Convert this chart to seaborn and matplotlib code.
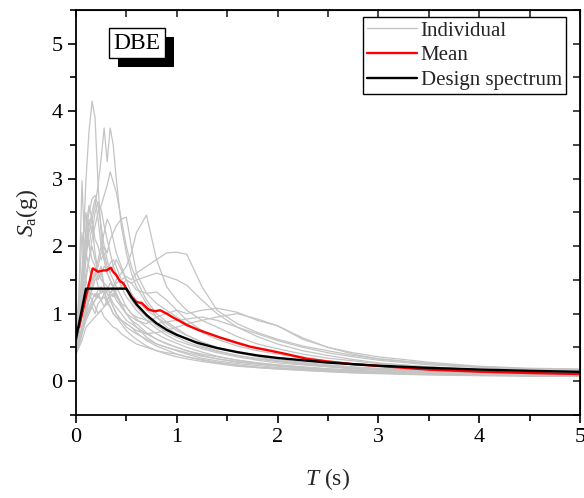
import numpy as np
import pandas as pd
import seaborn as sns
import matplotlib.pyplot as plt
import matplotlib.patheffects as pe
from matplotlib.lines import Line2D

# period grid for the individual record spectra
T_rec = [0, 0.03, 0.06, 0.08, 0.1, 0.13, 0.16, 0.19, 0.22, 0.25, 0.28, 0.31, 0.34, 0.37,
         0.4, 0.45, 0.5, 0.55, 0.6, 0.7, 0.8, 0.9, 1.0, 1.1, 1.25, 1.4, 1.6, 1.8, 2.0,
         2.25, 2.5, 2.75, 3.0, 3.5, 4.0, 4.5, 5.0]

records = [
    [0.55, 0.9, 1.6, 2.3, 3.0, 3.7, 4.15, 3.9, 2.9, 2.2, 1.8, 1.6, 1.5, 1.4, 1.3, 1.15, 1.0, 0.9, 0.8, 0.65, 0.55, 0.5, 0.45, 0.4, 0.34, 0.3, 0.26, 0.23, 0.2, 0.18, 0.16, 0.14, 0.13, 0.11, 0.1, 0.09, 0.08],
    [0.6, 0.8, 1.2, 1.5, 1.8, 2.2, 2.4, 2.6, 2.9, 3.3, 3.75, 3.25, 3.75, 3.5, 3.0, 2.3, 1.9, 1.6, 1.4, 1.15, 0.95, 0.8, 0.7, 0.62, 0.52, 0.45, 0.38, 0.33, 0.29, 0.25, 0.22, 0.19, 0.17, 0.14, 0.12, 0.11, 0.1],
    [0.65, 1.3, 2.97, 2.2, 2.5, 2.0, 2.3, 1.9, 1.6, 1.7, 1.4, 1.3, 1.2, 1.1, 1.0, 0.9, 0.85, 0.8, 0.72, 0.6, 0.52, 0.46, 0.4, 0.36, 0.31, 0.27, 0.23, 0.2, 0.18, 0.16, 0.14, 0.13, 0.12, 0.1, 0.09, 0.08, 0.07],
    [0.5, 0.7, 1.0, 1.3, 1.5, 1.8, 2.1, 2.3, 2.5, 2.6, 2.75, 2.9, 3.1, 2.95, 2.8, 2.4, 2.0, 1.7, 1.5, 1.2, 1.0, 0.88, 0.78, 0.68, 0.57, 0.5, 0.43, 0.37, 0.32, 0.28, 0.24, 0.21, 0.19, 0.16, 0.14, 0.12, 0.11],
    [0.45, 0.6, 0.8, 0.95, 1.1, 1.2, 1.3, 1.25, 1.35, 1.4, 1.3, 1.35, 1.45, 1.4, 1.5, 1.6, 1.7, 1.9, 2.2, 2.46, 1.8, 1.4, 1.2, 1.05, 0.9, 0.8, 0.66, 0.55, 0.48, 0.4, 0.34, 0.3, 0.26, 0.21, 0.17, 0.15, 0.13],
    [0.5, 0.6, 0.75, 0.85, 0.95, 1.05, 1.15, 1.2, 1.25, 1.2, 1.3, 1.35, 1.3, 1.4, 1.45, 1.5, 1.55, 1.5, 1.6, 1.7, 1.8, 1.9, 1.91, 1.88, 1.4, 1.05, 0.85, 0.72, 0.62, 0.52, 0.45, 0.38, 0.33, 0.26, 0.21, 0.18, 0.16],
    [0.55, 0.6, 0.75, 0.9, 1.0, 1.1, 1.2, 1.3, 1.25, 1.35, 1.3, 1.2, 1.25, 1.3, 1.2, 1.1, 1.0, 0.95, 0.9, 0.85, 0.95, 1.0, 1.05, 1.0, 1.05, 1.08, 1.02, 0.9, 0.82, 0.62, 0.5, 0.4, 0.33, 0.26, 0.21, 0.18, 0.17],
    [0.6, 0.9, 1.4, 1.9, 2.3, 2.6, 2.4, 2.1, 2.0, 1.8, 1.9, 1.7, 1.6, 1.7, 1.8, 1.65, 1.5, 1.45, 1.5, 1.55, 1.6, 1.55, 1.5, 1.42, 1.2, 1.0, 0.8, 0.66, 0.55, 0.45, 0.38, 0.32, 0.27, 0.21, 0.17, 0.14, 0.12],
    [0.5, 0.75, 1.2, 1.6, 1.9, 2.3, 2.5, 2.7, 2.4, 2.0, 1.8, 1.6, 1.5, 1.4, 1.3, 1.1, 1.0, 0.9, 0.85, 0.72, 0.62, 0.55, 0.5, 0.45, 0.38, 0.33, 0.28, 0.25, 0.22, 0.19, 0.17, 0.15, 0.13, 0.11, 0.1, 0.09, 0.08],
    [0.55, 0.8, 1.3, 1.7, 2.0, 2.4, 2.2, 2.5, 2.65, 2.55, 2.3, 2.1, 1.9, 1.7, 1.6, 1.4, 1.25, 1.15, 1.05, 0.9, 0.78, 0.68, 0.6, 0.55, 0.48, 0.42, 0.36, 0.31, 0.27, 0.24, 0.21, 0.18, 0.16, 0.13, 0.11, 0.1, 0.09],
    [0.45, 0.7, 1.1, 1.35, 1.5, 1.3, 1.2, 1.1, 1.0, 1.05, 0.95, 0.9, 0.85, 0.8, 0.78, 0.7, 0.65, 0.6, 0.55, 0.5, 0.45, 0.42, 0.4, 0.36, 0.32, 0.28, 0.24, 0.21, 0.19, 0.17, 0.15, 0.13, 0.12, 0.1, 0.09, 0.08, 0.07],
    [0.4, 0.5, 0.7, 0.85, 1.0, 1.2, 1.4, 1.6, 1.8, 2.0, 2.2, 2.4, 2.3, 2.1, 1.9, 1.7, 1.5, 1.3, 1.2, 1.05, 0.95, 0.85, 0.75, 0.68, 0.58, 0.5, 0.42, 0.36, 0.3, 0.26, 0.22, 0.19, 0.17, 0.14, 0.12, 0.1, 0.09],
    [0.5, 0.6, 0.8, 0.95, 1.1, 1.3, 1.5, 1.6, 1.7, 1.9, 2.0, 1.9, 2.1, 2.2, 2.3, 2.4, 2.43, 2.0, 1.6, 1.3, 1.15, 1.05, 0.95, 0.85, 0.72, 0.62, 0.52, 0.45, 0.4, 0.34, 0.29, 0.25, 0.22, 0.18, 0.15, 0.13, 0.12],
    [0.42, 0.5, 0.6, 0.7, 0.8, 0.85, 0.9, 0.95, 1.0, 1.05, 1.1, 1.15, 1.2, 1.1, 1.0, 0.9, 0.8, 0.75, 0.7, 0.62, 0.55, 0.5, 0.46, 0.42, 0.37, 0.33, 0.29, 0.26, 0.23, 0.2, 0.18, 0.16, 0.14, 0.12, 0.1, 0.09, 0.08],
    [0.7, 1.1, 1.6, 1.9, 2.2, 2.0, 1.8, 1.7, 1.5, 1.6, 1.4, 1.3, 1.25, 1.15, 1.1, 1.0, 0.9, 0.85, 0.8, 0.7, 0.62, 0.56, 0.5, 0.45, 0.4, 0.36, 0.31, 0.27, 0.24, 0.21, 0.18, 0.16, 0.14, 0.12, 0.1, 0.09, 0.08],
    [0.55, 0.75, 1.1, 1.4, 1.6, 1.8, 2.0, 1.8, 1.6, 1.5, 1.45, 1.4, 1.3, 1.35, 1.25, 1.15, 1.1, 1.0, 0.95, 0.9, 0.85, 0.88, 0.9, 0.92, 0.95, 0.9, 0.8, 0.7, 0.6, 0.5, 0.42, 0.36, 0.31, 0.24, 0.2, 0.17, 0.15],
    [0.6, 0.9, 1.4, 1.8, 2.2, 2.5, 2.7, 2.75, 2.6, 2.3, 2.0, 1.8, 1.6, 1.5, 1.4, 1.25, 1.1, 1.0, 0.92, 0.8, 0.7, 0.62, 0.56, 0.5, 0.43, 0.37, 0.31, 0.27, 0.24, 0.21, 0.18, 0.16, 0.14, 0.12, 0.1, 0.09, 0.08],
    [0.45, 0.55, 0.7, 0.8, 0.9, 1.0, 1.1, 1.0, 1.15, 1.2, 1.1, 1.2, 1.3, 1.25, 1.35, 1.4, 1.5, 1.45, 1.35, 1.3, 1.32, 1.2, 1.05, 0.9, 0.75, 0.65, 0.55, 0.48, 0.42, 0.36, 0.3, 0.26, 0.23, 0.18, 0.15, 0.13, 0.11],
    [0.5, 0.6, 0.8, 0.95, 1.05, 1.2, 1.35, 1.5, 1.55, 1.6, 1.7, 1.65, 1.75, 1.8, 1.7, 1.5, 1.35, 1.2, 1.1, 0.95, 0.82, 0.72, 0.65, 0.58, 0.5, 0.44, 0.38, 0.33, 0.3, 0.26, 0.23, 0.2, 0.18, 0.15, 0.13, 0.12, 0.11],
    [0.6, 1.2, 2.2, 1.8, 1.9, 1.7, 1.5, 1.6, 1.4, 1.3, 1.35, 1.2, 1.1, 1.0, 0.95, 0.85, 0.75, 0.68, 0.62, 0.52, 0.45, 0.4, 0.36, 0.33, 0.29, 0.26, 0.22, 0.2, 0.18, 0.16, 0.14, 0.12, 0.11, 0.09, 0.08, 0.07, 0.07],
    [0.5, 0.6, 0.75, 0.85, 0.95, 1.05, 1.1, 1.2, 1.3, 1.2, 1.25, 1.15, 1.1, 1.0, 0.95, 0.9, 0.85, 0.8, 0.75, 0.7, 0.72, 0.75, 0.8, 0.85, 0.9, 0.95, 1.0, 0.92, 0.82, 0.64, 0.5, 0.42, 0.36, 0.28, 0.22, 0.19, 0.18],
]

# mean spectrum (red)
T_mean = [0, 0.03, 0.07, 0.1, 0.166, 0.19, 0.22, 0.27, 0.305, 0.345, 0.37, 0.40, 0.437, 0.47,
          0.50, 0.55, 0.60, 0.65, 0.72, 0.785, 0.835, 0.90, 0.967, 1.03, 1.10, 1.22, 1.43,
          1.60, 1.73, 1.93, 2.09, 2.29, 2.5, 2.75, 3.0, 3.5, 4.0, 4.5, 5.0]
Sa_mean = [0.75, 0.80, 1.05, 1.25, 1.67, 1.65, 1.62, 1.64, 1.64, 1.68, 1.62, 1.57, 1.48, 1.45,
           1.37, 1.25, 1.17, 1.16, 1.06, 1.035, 1.05, 1.00, 0.94, 0.89, 0.83, 0.755, 0.646,
           0.567, 0.51, 0.45, 0.40, 0.33, 0.29, 0.25, 0.225, 0.17, 0.14, 0.12, 0.105]

# design spectrum (black)
T_design = [0, 0.1, 0.5, 0.55, 0.6, 0.7, 0.8, 0.9, 1.0, 1.2, 1.4, 1.6, 1.8, 2.0, 2.5, 3.0,
            3.5, 4.0, 4.5, 5.0]
Sa_design = [0.62, 1.37, 1.37, 1.245, 1.14, 0.98, 0.856, 0.76, 0.685, 0.57, 0.49, 0.43,
             0.38, 0.343, 0.274, 0.228, 0.196, 0.171, 0.152, 0.137]

rows = []
for i, rec in enumerate(records):
    for t, s in zip(T_rec, rec):
        rows.append((i, t, s))
df = pd.DataFrame(rows, columns=["record", "T", "Sa"])

sns.set_style("ticks")
plt.rcParams['font.family'] = ['Liberation Serif', 'DejaVu Serif']
plt.rcParams['mathtext.fontset'] = 'custom'
plt.rcParams['mathtext.rm'] = 'Liberation Serif'
plt.rcParams['mathtext.it'] = 'Liberation Serif:italic'

fig = plt.figure(figsize=(5.84, 4.98), dpi=100)
ax = fig.add_axes([0.130, 0.167, 0.863, 0.813])

gray = "#c4c4c4"
sns.lineplot(data=df, x="T", y="Sa", units="record", estimator=None, color=gray,
             linewidth=0.9, ax=ax, legend=False)
sns.lineplot(x=T_mean, y=Sa_mean, color="red", linewidth=1.7, ax=ax)
sns.lineplot(x=T_design, y=Sa_design, color="black", linewidth=1.7, ax=ax)

ax.set_xlim(0, 5)
ax.set_ylim(-0.5, 5.5)
ax.set_xticks([0, 1, 2, 3, 4, 5])
ax.set_xticks(np.arange(0, 5.01, 0.5), minor=True)
ax.set_yticks([0, 1, 2, 3, 4, 5])
ax.set_yticks(np.arange(-0.5, 5.51, 0.5), minor=True)
ax.tick_params(which='both', direction='out', width=1.2, labelsize=16, colors='black')
ax.tick_params(which='major', length=6)
ax.tick_params(which='minor', length=4)
for sp in ax.spines.values():
    sp.set_visible(True)
    sp.set_linewidth(1.3)
    sp.set_color('black')

top = ax.secondary_xaxis('top')
top.set_xticks([0, 1, 2, 3, 4, 5])
top.set_xticks(np.arange(0, 5.01, 0.5), minor=True)
top.tick_params(which='both', direction='in', length=5, width=1.2, labeltop=False)
right = ax.secondary_yaxis('right')
right.set_yticks([0, 1, 2, 3, 4, 5])
right.set_yticks(np.arange(-0.5, 5.51, 0.5), minor=True)
right.tick_params(which='both', direction='in', length=5, width=1.2, labelright=False)

ax.set_xlabel(r"$T$ (s)", fontsize=17, labelpad=14)
ax.set_ylabel(r"$S_{\mathrm{a}}$(g)", fontsize=17, labelpad=8)

handles = [Line2D([], [], color=gray, lw=1),
           Line2D([], [], color="red", lw=1.7),
           Line2D([], [], color="black", lw=1.7)]
leg = ax.legend(handles, ["Individual", "Mean", "Design spectrum"], loc="upper right",
                bbox_to_anchor=(0.972, 0.983), fontsize=15, frameon=True, fancybox=False,
                framealpha=1, edgecolor="black", handlelength=2.4, handletextpad=0.15,
                labelspacing=0.25, borderpad=0.2, borderaxespad=0.0)
leg.get_frame().set_linewidth(1.0)

# DBE label with a drop shadow on its box
dbe = ax.text(0.121, 0.918, "DBE", transform=ax.transAxes, fontsize=17, ha="center",
              va="center", color="black", zorder=6,
              bbox=dict(boxstyle="square,pad=0.18", fc="white", ec="black", lw=1))
dbe.get_bbox_patch().set_path_effects([
    pe.SimplePatchShadow(offset=(6.5, -6.5), shadow_rgbFace="black", alpha=1.0),
    pe.Normal()])

fig.savefig("out.png", dpi=100)
